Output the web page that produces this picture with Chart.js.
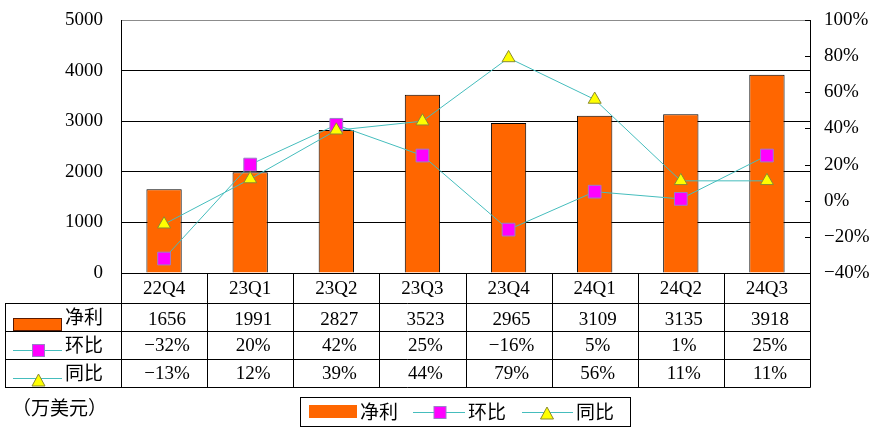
<!DOCTYPE html>
<html><head><meta charset="utf-8">
<script src="https://cdn.jsdelivr.net/npm/chart.js@4"></script>
<style>html,body{margin:0;padding:0;background:#fff}canvas{display:block}</style>
</head><body>
<canvas id="c" width="882" height="439"></canvas>
<script>
const categories = ['22Q4','23Q1','23Q2','23Q3','23Q4','24Q1','24Q2','24Q3'];
const netProfit = [1656,1991,2827,3523,2965,3109,3135,3918];
const qoq = [-32,20,42,25,-16,5,1,25];
const yoy = [-13,12,39,44,79,56,11,11];
const leftTicks = [0,1000,2000,3000,4000,5000];
const rightTicks = [-40,-20,0,20,40,60,80,100];
const seriesNames = ['净利','环比','同比'];
const unitLabel = '（万美元）';

const ORANGE = '#FF6600', TEAL = '#45BDBD', MAGENTA = '#FF00FF', SQ_BORDER = '#9A7FC8', YELLOW = '#FFFF00', TRI_BORDER = '#8A8A30';
const NUMFONT = '19px "Liberation Serif", "DejaVu Serif", serif';
const CJKFONT = '19px "Noto Sans CJK SC", sans-serif';
const pct = v => (v < 0 ? '−' + Math.abs(v) : '' + v) + '%';

function drawSquare(ctx, x, y, s) {
  ctx.fillStyle = MAGENTA; ctx.strokeStyle = SQ_BORDER; ctx.lineWidth = 1;
  ctx.fillRect(x - s/2, y - s/2, s, s); ctx.strokeRect(x - s/2, y - s/2, s, s);
}
function drawTri(ctx, x, y, w, h) {
  ctx.beginPath(); ctx.moveTo(x, y - h/2); ctx.lineTo(x + w/2, y + h/2); ctx.lineTo(x - w/2, y + h/2); ctx.closePath();
  ctx.fillStyle = YELLOW; ctx.fill(); ctx.strokeStyle = TRI_BORDER; ctx.lineWidth = 1; ctx.stroke();
}

const tablePlugin = {
  id: 'tablePlugin',
  afterDraw(chart) {
    const ctx = chart.ctx, ca = chart.chartArea, xs = chart.scales.x, y1 = chart.scales.y1;
    const L = ca.left, R = ca.right, B = ca.bottom;
    const n = categories.length, cw = (R - L) / n;
    const tableLeft = 5;
    const rows = [B, B + 30, B + 58, B + 86, B + 114];
    ctx.save();
    ctx.strokeStyle = '#000'; ctx.lineWidth = 1;
    rightTicks.forEach(v => {
      const yy = Math.round(y1.getPixelForValue(v)) + 0.5;
      ctx.beginPath(); ctx.moveTo(R - 5, yy); ctx.lineTo(R, yy); ctx.stroke();
    });
    ctx.beginPath();
    for (let r = 1; r < rows.length; r++) {
      const yy = Math.round(rows[r]) + 0.5;
      ctx.moveTo(tableLeft, yy); ctx.lineTo(R + 0.5, yy);
    }
    for (let i = 0; i <= n; i++) {
      const xx = Math.round(L + i * cw) + 0.5;
      ctx.moveTo(xx, B); ctx.lineTo(xx, rows[4] + 0.5);
    }
    ctx.moveTo(tableLeft + 0.5, rows[1]); ctx.lineTo(tableLeft + 0.5, rows[4] + 0.5);
    ctx.stroke();
    ctx.fillStyle = '#000'; ctx.textAlign = 'center'; ctx.textBaseline = 'middle';
    ctx.font = NUMFONT;
    categories.forEach((c, i) => {
      const cx = xs.getPixelForValue(i);
      ctx.fillText(c, cx, rows[0] + 16);
      ctx.fillText(String(netProfit[i]), cx + 3, rows[1] + 17);
      ctx.fillText(pct(qoq[i]), cx + 3, rows[2] + 15);
      ctx.fillText(pct(yoy[i]), cx + 3, rows[3] + 15);
    });
    ctx.font = CJKFONT; ctx.textAlign = 'left';
    ctx.fillStyle = ORANGE; ctx.fillRect(13, rows[1] + 15, 49, 13);
    ctx.strokeStyle = '#5a1a00'; ctx.lineWidth = 1; ctx.strokeRect(13.5, rows[1] + 15.5, 48, 12);
    ctx.fillStyle = '#000'; ctx.fillText(seriesNames[0], 65, rows[1] + 14);
    ctx.save(); ctx.beginPath(); ctx.rect(0, rows[2] + 1, 120, rows[4] - rows[2] - 1); ctx.clip();
    ctx.strokeStyle = TEAL; ctx.beginPath(); ctx.moveTo(13, rows[2] + 19.5); ctx.lineTo(62, rows[2] + 19.5); ctx.stroke();
    drawSquare(ctx, 38.5, rows[2] + 19.5, 12);
    ctx.strokeStyle = TEAL; ctx.beginPath(); ctx.moveTo(13, rows[3] + 19.5); ctx.lineTo(62, rows[3] + 19.5); ctx.stroke();
    ctx.restore();
    ctx.save(); ctx.beginPath(); ctx.rect(0, rows[3] + 1, 120, rows[4] - rows[3] - 1); ctx.clip();
    drawTri(ctx, 38.5, rows[3] + 21, 13, 12);
    ctx.restore();
    ctx.fillStyle = '#000'; ctx.font = CJKFONT; ctx.textAlign = 'left'; ctx.textBaseline = 'middle';
    ctx.fillText(seriesNames[1], 65, rows[2] + 14);
    ctx.fillText(seriesNames[2], 65, rows[3] + 14);
    ctx.fillText(unitLabel, 12, rows[4] + 21);
    const lx = 300.5, ly = 397.5, lw = 330, lh = 29;
    ctx.strokeStyle = '#000'; ctx.strokeRect(lx, ly, lw, lh);
    const my = ly + lh / 2;
    ctx.fillStyle = ORANGE; ctx.fillRect(309, my - 7, 48, 13);
    ctx.fillStyle = '#000'; ctx.fillText(seriesNames[0], 360, my);
    ctx.strokeStyle = TEAL; ctx.beginPath(); ctx.moveTo(413, my + 0.5); ctx.lineTo(465, my + 0.5); ctx.stroke();
    drawSquare(ctx, 440, my + 0.5, 12);
    ctx.fillStyle = '#000'; ctx.fillText(seriesNames[1], 468, my);
    ctx.strokeStyle = TEAL; ctx.beginPath(); ctx.moveTo(522, my + 0.5); ctx.lineTo(573, my + 0.5); ctx.stroke();
    drawTri(ctx, 547, my + 1, 13, 12);
    ctx.fillStyle = '#000'; ctx.fillText(seriesNames[2], 576, my);
    ctx.restore();
  }
};

const fixPad = s => { s.paddingTop = 0; s.paddingBottom = 0; };

new Chart(document.getElementById('c'), {
  data: {
    labels: categories,
    datasets: [
      { type: 'line', label: seriesNames[2], data: yoy, yAxisID: 'y1', order: 0,
        borderColor: TEAL, borderWidth: 1, tension: 0, fill: false,
        pointStyle: 'triangle', pointRadius: 7.5, pointHoverRadius: 7.5,
        pointBackgroundColor: YELLOW, pointBorderColor: TRI_BORDER, pointBorderWidth: 1 },
      { type: 'line', label: seriesNames[1], data: qoq, yAxisID: 'y1', order: 1,
        borderColor: TEAL, borderWidth: 1, tension: 0, fill: false,
        pointStyle: 'rect', pointRadius: 9, pointHoverRadius: 9,
        pointBackgroundColor: MAGENTA, pointBorderColor: SQ_BORDER, pointBorderWidth: 1 },
      { type: 'bar', label: seriesNames[0], data: netProfit, yAxisID: 'y', order: 2,
        backgroundColor: ORANGE, borderColor: '#000', borderWidth: 1,
        barPercentage: 0.41, categoryPercentage: 1 }
    ]
  },
  options: {
    responsive: false, animation: false, devicePixelRatio: 1,
    layout: { padding: { top: 20, bottom: 166, left: 0, right: 0 } },
    plugins: { legend: { display: false }, tooltip: { enabled: false } },
    scales: {
      x: { display: false, offset: true },
      y: { position: 'left', min: 0, max: 5000,
        afterFit: s => { s.width = 121; fixPad(s); },
        ticks: { stepSize: 1000, color: '#000', font: { family: '"Liberation Serif", serif', size: 19 }, padding: 18, callback: v => String(v) },
        grid: { color: c => (c.tick && c.tick.value === 5000) ? '#8c8c8c' : '#000', lineWidth: 1, drawTicks: false },
        border: { color: '#000', width: 1 } },
      y1: { position: 'right', min: -40, max: 100,
        afterFit: s => { s.width = 72; fixPad(s); },
        ticks: { stepSize: 20, color: '#000', font: { family: '"Liberation Serif", serif', size: 19 }, padding: 14, callback: v => pct(v) },
        grid: { drawOnChartArea: false, drawTicks: false },
        border: { color: '#000', width: 1 } }
    }
  },
  plugins: [tablePlugin]
});
</script>
</body></html>
